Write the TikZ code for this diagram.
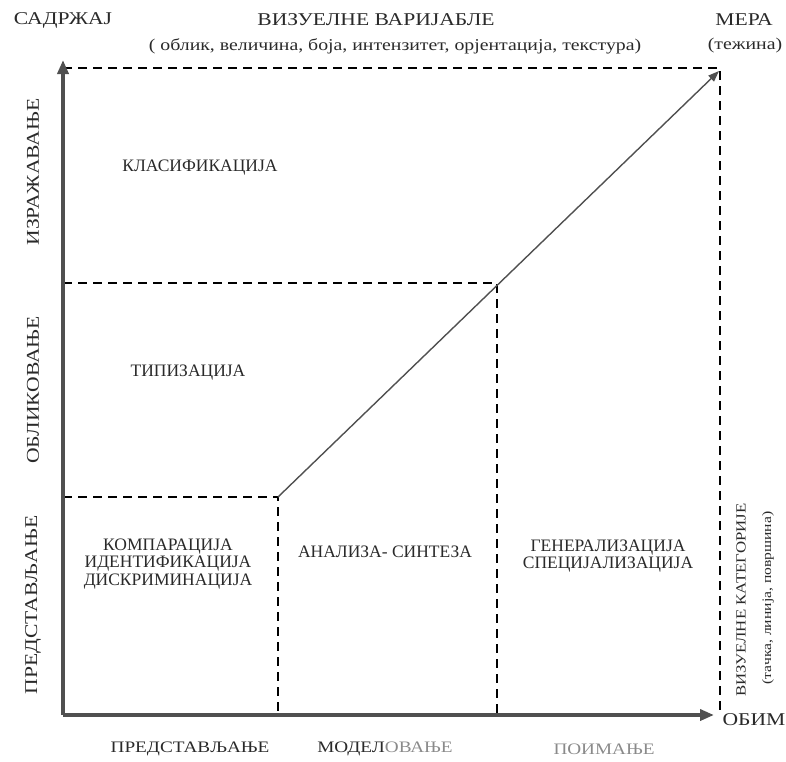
\documentclass[tikz,border=0pt]{standalone}
\usepackage{fontspec}
\setmainfont{Liberation Serif}
\newfontfamily\widefont{Liberation Serif}[FakeStretch=1.2]
\usetikzlibrary{arrows.meta}
\definecolor{axisgray}{HTML}{505050}
\definecolor{inkgray}{HTML}{2A2A2A}
\definecolor{fadedink}{HTML}{8A8A8A}
\begin{document}
\begin{tikzpicture}[x=1pt,y=-1pt,
  axisline/.style={draw=axisgray,line width=3.6pt,-{Triangle[length=14pt,width=11pt]}},
  guide/.style={draw=black,line width=1.1pt,dash pattern=on 9pt off 6pt},
  growth/.style={draw=axisgray,line width=1.4pt,-{Triangle[length=11pt,width=8pt]}},
  lbl/.style={text=inkgray,font=\widefont\fontsize{18}{20}\selectfont,inner sep=0pt},
  botlbl/.style={text=inkgray,font=\widefont\fontsize{16}{18}\selectfont,inner sep=0pt},
  small/.style={text=inkgray,font=\widefont\fontsize{16.5}{18}\selectfont,inner sep=0pt},
  sidelbl/.style={text=inkgray,font=\widefont\fontsize{14}{16}\selectfont,inner sep=0pt},
  sidesmall/.style={text=inkgray,font=\widefont\fontsize{13}{15}\selectfont,inner sep=0pt},
  cell/.style={text=inkgray,font=\fontsize{17.5}{17.5}\selectfont,align=center,inner sep=0pt}]
\useasboundingbox (0,0) rectangle (786,761);
% frame corners and break points
\coordinate (O) at (63,715);
\coordinate (Ytop) at (63,60);
\coordinate (Xend) at (714,715);
\coordinate (TL) at (63,68);
\coordinate (TR) at (720,68);
\coordinate (BR) at (720,715);
\coordinate (L1) at (63,497);
\coordinate (P1) at (278,497);
\coordinate (L2) at (63,283);
\coordinate (P2) at (497,283);
\coordinate (B1) at (278,715);
\coordinate (B2) at (497,715);
\coordinate (Dend) at (719,71);
% dashed guides
\draw[guide] (TL) -- (TR) -- (BR);
\draw[guide] (L1) -- (P1) -- (B1);
\draw[guide] (L2) -- (P2) -- (B2);
% growth line
\draw[growth] (P1) -- (Dend);
% axes
\draw[axisline] (O) -- (Ytop);
\draw[axisline] (O) -- (Xend);
% top labels
\node[lbl] (sadrzaj) at (63,20) {САДРЖАЈ};
\node[lbl] (vv) at (376,20) {ВИЗУЕЛНЕ ВАРИЈАБЛЕ};
\node[small] (vvlist) at (395,46) {( облик, величина, боја, интензитет, орјентација, текстура)};
\node[lbl] (mera) at (744,20) {МЕРА};
\node[small] (tezina) at (745,46) {(тежина)};
% cells
\node[cell] (klas) at (200,168) {КЛАСИФИКАЦИЈА};
\node[cell] (tip) at (188,373) {ТИПИЗАЦИЈА};
\node[cell] (komp) at (168,564) {КОМПАРАЦИЈА\\ИДЕНТИФИКАЦИЈА\\ДИСКРИМИНАЦИЈА};
\node[cell] (anal) at (385,552) {АНАЛИЗА- СИНТЕЗА};
\node[cell] (gen) at (608,556) {ГЕНЕРАЛИЗАЦИЈА\\СПЕЦИЈАЛИЗАЦИЈА};
% left axis labels
\node[lbl,rotate=90] (izr) at (33,172) {ИЗРАЖАВАЊЕ};
\node[lbl,rotate=90] (obl) at (33,390) {ОБЛИКОВАЊЕ};
\node[lbl,rotate=90] (pred) at (33,605) {ПРЕДСТАВЉАЊЕ};
% right side labels
\node[sidelbl,rotate=90] (vk) at (741,600) {ВИЗУЕЛНЕ КАТЕГОРИЈЕ};
\node[sidesmall,rotate=90] (vklist) at (768,598) {(тачка, линија, површина)};
\node[lbl] (obim) at (754,720) {ОБИМ};
% bottom labels
\node[botlbl] (bpred) at (190,749) {ПРЕДСТАВЉАЊЕ};
\node[botlbl] (bmod) at (385,749) {МОДЕЛ\textcolor{fadedink}{ОВАЊЕ}};
\node[botlbl,text=fadedink] (bpoi) at (604,749) {ПОИМАЊЕ};
\end{tikzpicture}
\end{document}
